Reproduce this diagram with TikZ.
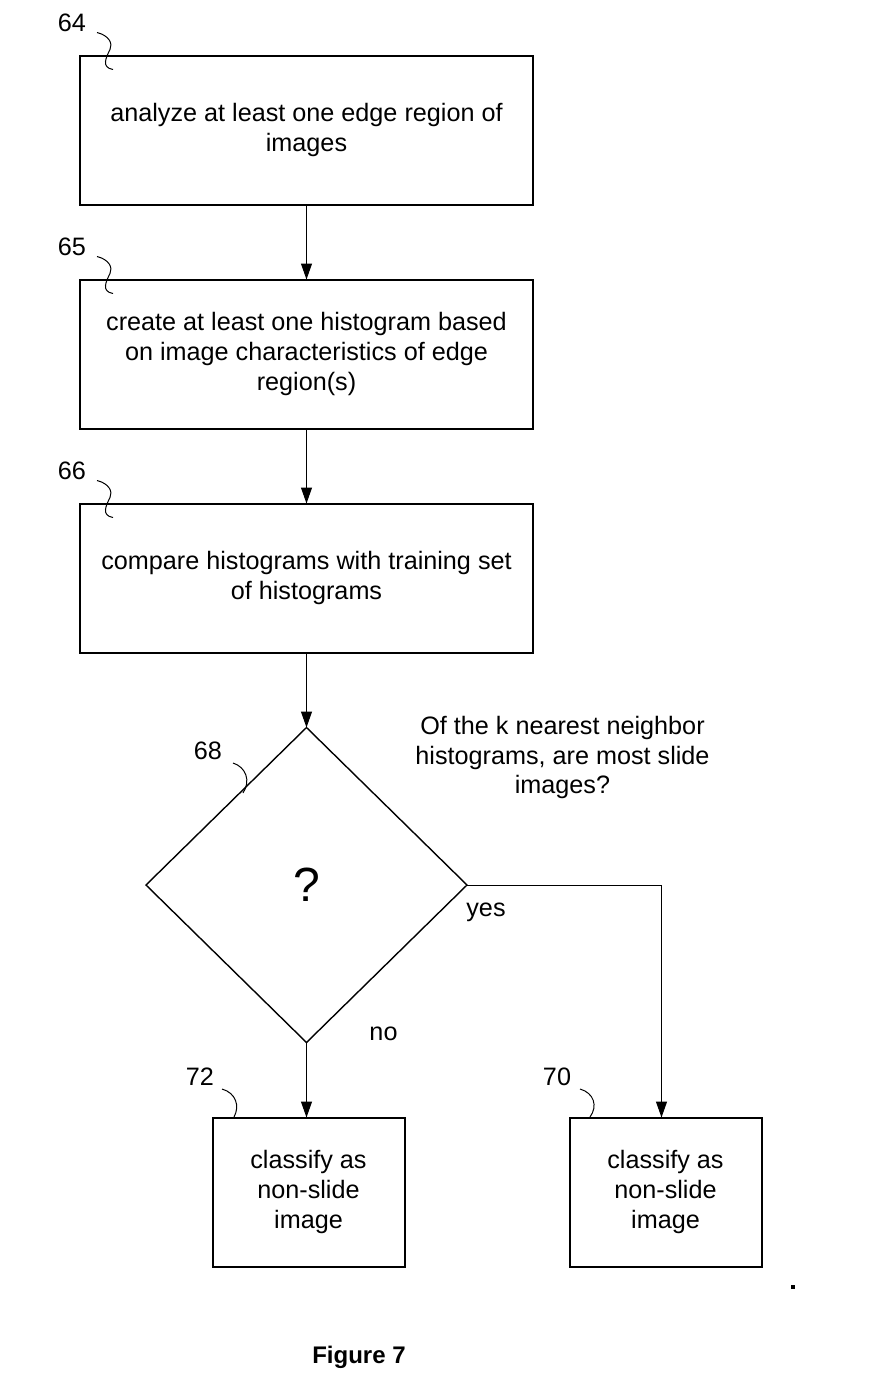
\documentclass[tikz,border=0pt]{standalone}
\usepackage{fontspec}
\setmainfont{Liberation Sans}
\usetikzlibrary{positioning,calc,shapes.geometric,arrows.meta}

\begin{document}
\begin{tikzpicture}[x=0.5pt,y=-0.5pt,
  txt/.style={font=\fontsize{12.6}{14.8}\selectfont,align=center},
  block/.style={draw,line width=1pt,txt,minimum width=226.5pt,minimum height=74.5pt,inner sep=0pt,outer sep=0pt},
  small/.style={block,minimum width=96pt},
  decision/.style={draw,line width=0.7pt,diamond,minimum width=160.5pt,minimum height=157.5pt,inner sep=0pt,outer sep=0pt,font=\fontsize{24}{28}\selectfont},
  tag/.style={txt,inner sep=0pt},
  flow/.style={-{Triangle[length=8pt,width=5.5pt]},line width=0.5pt},
  node distance=37.5pt]
\useasboundingbox (0,0) rectangle (877,1393);
% process steps
\node[block] (b64) at (306.5,130) {analyze at least one edge region of\\images};
\node[block,below=of b64] (b65) {create at least one histogram based\\on image characteristics of edge\\region(s)};
\node[block,below=of b65] (b66) {compare histograms with training set\\of histograms};
\node[decision,below=of b66] (dec) {?};
\node[small,below=of dec,xshift=1pt] (b72) {classify as\\non-slide\\image};
\node[small,right=82.5pt of b72] (b70) {classify as\\non-slide\\image};
% connectors
\draw[flow] (b64) -- (b65);
\draw[flow] (b65) -- (b66);
\draw[flow] (b66) -- (dec);
\draw[flow] (dec) -- (dec.south |- b72.north);
\draw[flow] (dec.east) -| ($(b70.north)+(-4,0)$);
\node[tag] (yes) at ($(dec.east)+(19,27)$) {yes};
\node[tag] (no) at ($(dec.south)+(77,-9)$) {no};
\node[tag] (ask) at ($(dec.north)+(256,30)$) {Of the k nearest neighbor\\histograms, are most slide\\images?};
% reference numerals
\foreach \n in {64,65,66}
{\node[tag] (t\n) at ($(b\n.north west)+(-8,-33)$) {\n};
 \draw[line width=0.5pt] ($(b\n.north west)+(17,-23)$) .. controls ($(b\n.north west)+(29,-20)$)
   and ($(b\n.north west)+(33,-12)$) .. ($(b\n.north west)+(30,-6)$)
   .. controls ($(b\n.north west)+(26,2)$) and ($(b\n.north west)+(21,12)$) .. ($(b\n.north west)+(33,14)$);}
\node[tag] (t68) at (208,751) {68};
\draw[line width=0.5pt] (233,763) .. controls (246,767) and (251,781) .. (243,793);
\node[tag] (t72) at (200,1077) {72};
\draw[line width=0.5pt] (222,1089) .. controls (236,1093) and (240,1106) .. (234,1117);
\node[tag] (t70) at (557,1077) {70};
\draw[line width=0.5pt] (580,1089) .. controls (594,1093) and (598,1106) .. (590,1117);
\fill (791,1285) rectangle (795,1289);
\node[tag,font=\bfseries\fontsize{12}{14}\selectfont] (fig) at (359,1357) {Figure 7};
\end{tikzpicture}
\end{document}
